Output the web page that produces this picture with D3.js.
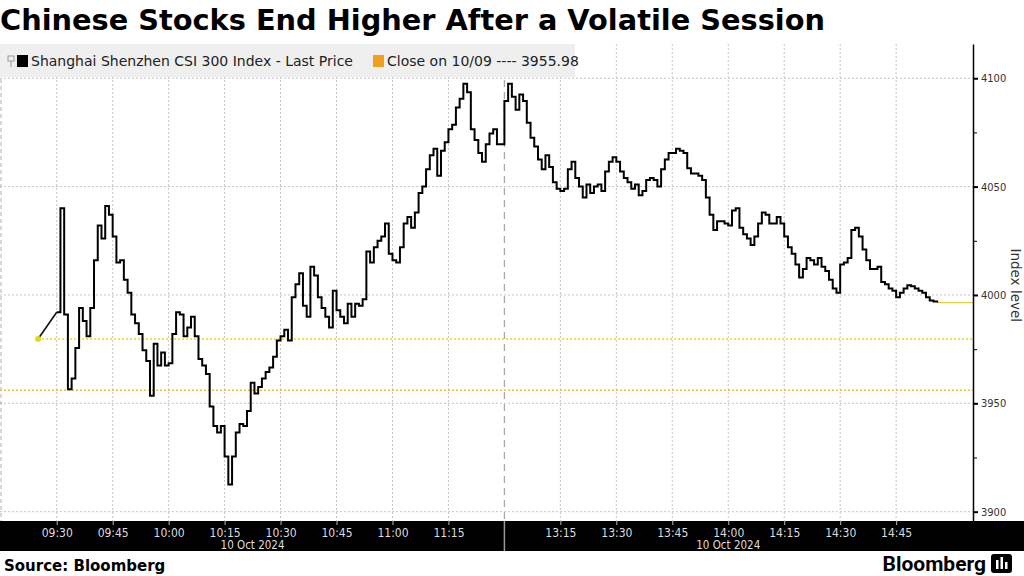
<!DOCTYPE html>
<html>
<head>
<meta charset="utf-8">
<script src="https://cdn.jsdelivr.net/npm/d3@7"></script>
<style>
  html, body { margin: 0; padding: 0; background: #fff; }
  svg { display: block; font-family: "DejaVu Sans", Verdana, sans-serif; }
</style>
</head>
<body>
<svg id="chart" width="1024" height="576"></svg>
<script>
// CSI 300 intraday, 10 Oct 2024 - one reading per minute
var openTime = "09:25";
var openValue = 3979.7;

var amStart = "09:30";
var amValues = [
  3992, 4040, 3991, 3956.5, 3961.5, 3975.5, 3994, 3988, 3981, 3994,
  4016, 4032, 4026, 4041, 4037, 4027, 4015, 4016, 4007, 4001,
  3991, 3987, 3982, 3974.5, 3969.5, 3953.5, 3977.5, 3967.5, 3973.5, 3967.5,
  3968.5, 3982, 3992, 3991, 3981, 3985, 3990, 3981, 3970.5, 3967.5,
  3963.5, 3948.5, 3939.5, 3936.5, 3939.5, 3925.5, 3912.5, 3925.5, 3936.5, 3940.5,
  3939.5, 3946.5, 3959.5, 3954.5, 3957.5, 3961.5, 3964.5, 3966.5, 3971.5, 3979,
  3981, 3984, 3979, 3999, 4005, 4010, 3995, 3990, 4013, 4009,
  3999, 3994, 3990, 3985, 4002, 3993, 3990, 3987, 3996, 3990,
  3996, 3995, 3998, 4020, 4015, 4022, 4025, 4027, 4033, 4019,
  4016, 4015, 4022, 4033, 4036, 4031, 4038, 4047, 4050, 4058,
  4064.5, 4067.5, 4055, 4066.5, 4070.5, 4076.5, 4078.5, 4086.5, 4090.5, 4097.5,
  4093.5, 4076.5, 4071.5, 4065.5, 4061.5, 4069.5, 4074.5, 4076.5, 4069.5, 4069.5
];

var pmStart = "13:00";
var pmValues = [
  4089.5, 4097.5, 4091.5, 4085.5, 4092.5, 4089.5, 4079.5, 4072.5, 4068.5, 4062.5,
  4058, 4064.5, 4059, 4052, 4049, 4048, 4049, 4058, 4061.5, 4054,
  4050, 4045, 4051, 4047, 4050, 4051, 4048, 4057, 4061.5, 4063.5,
  4061.5, 4057, 4054, 4052, 4049, 4051, 4046, 4048, 4053, 4054,
  4053, 4050, 4058, 4062.5, 4065.5, 4065.5, 4067.5, 4066.5, 4065.5, 4058.5,
  4056, 4056, 4055, 4053, 4045, 4037, 4030, 4034, 4034, 4033,
  4032, 4039, 4040, 4031, 4028, 4026, 4023, 4027, 4033, 4038,
  4037, 4033, 4033, 4036, 4033, 4027, 4022, 4019, 4014, 4008,
  4012, 4017, 4016, 4014, 4017, 4013, 4011, 4007, 4003, 4001,
  4014, 4015, 4017, 4030, 4031, 4027, 4021, 4016, 4012, 4012,
  4013, 4006, 4005, 4003, 4002, 3999, 4001, 4003, 4004.5, 4004,
  4003, 4002, 4001, 3999, 3997.5, 3997, 3996.5
];

var prevClose = 3955.98;
var yTicks = [3900, 3950, 4000, 4050, 4100];
var yMinorTicks = [3925, 3975, 4025, 4075];
var timeTicks = ["09:30", "09:45", "10:00", "10:15", "10:30", "10:45", "11:00", "11:15",
                 "13:15", "13:30", "13:45", "14:00", "14:15", "14:30", "14:45"];
var sessions = [["09:15", "11:30"], ["13:00", "15:00"]];
var dateLabel = "10 Oct 2024";

// lunch break removed: minutes counted from 09:15
function sessionMinute(s) {
  var p = s.split(":");
  var m = +p[0] * 60 + +p[1];
  return m <= 690 ? m - 555 : m - 780 + 135;
}

var aData = amValues.map(function(v, i) { return { t: sessionMinute(amStart) + i, v: v }; })
  .concat(pmValues.map(function(v, i) { return { t: sessionMinute(pmStart) + i, v: v }; }));

var svg = d3.select("#chart");
var plotTop = 44, plotBottom = 521, plotRight = 973;
var condensed = "DejaVu Sans Condensed, DejaVu Sans, sans-serif";

var x = d3.scaleLinear().domain([0, 260.6]).range([0.75, plotRight]);
var y = d3.scaleLinear().domain([3895.7, 4115.8]).range([plotBottom, plotTop]);

// title
svg.append("text")
  .attr("x", 0).attr("y", 30)
  .attr("font-size", 28.8).attr("font-weight", "bold").attr("fill", "#000")
  .text("Chinese Stocks End Higher After a Volatile Session");

// grid
var grid = svg.append("g");
grid.selectAll("line.h").data(yTicks).enter().append("line")
  .attr("x1", 0).attr("x2", plotRight)
  .attr("y1", function(d) { return y(d); }).attr("y2", function(d) { return y(d); })
  .attr("stroke", "#c4c4c4").attr("stroke-dasharray", "2,2");
grid.selectAll("line.v").data(timeTicks).enter().append("line")
  .attr("x1", function(d) { return x(sessionMinute(d)); })
  .attr("x2", function(d) { return x(sessionMinute(d)); })
  .attr("y1", plotTop).attr("y2", plotBottom)
  .attr("stroke", "#c4c4c4").attr("stroke-dasharray", "2,2");
grid.append("line")
  .attr("x1", 1).attr("x2", 1).attr("y1", plotTop).attr("y2", plotBottom)
  .attr("stroke", "#b0b0b0").attr("stroke-dasharray", "4,3");
grid.append("line")
  .attr("x1", x(sessionMinute("11:30"))).attr("x2", x(sessionMinute("11:30")))
  .attr("y1", plotTop).attr("y2", plotBottom)
  .attr("stroke", "#a8a8a8").attr("stroke-width", 1.3).attr("stroke-dasharray", "7,5");

// reference lines
svg.append("line")
  .attr("x1", 0).attr("x2", plotRight)
  .attr("y1", y(prevClose)).attr("y2", y(prevClose))
  .attr("stroke", "#f3b84a").attr("stroke-width", 1.5).attr("stroke-dasharray", "2,2");
svg.append("line")
  .attr("x1", x(sessionMinute(openTime))).attr("x2", plotRight)
  .attr("y1", y(openValue)).attr("y2", y(openValue))
  .attr("stroke", "#e2d820").attr("stroke-width", 1.5).attr("stroke-dasharray", "2,2");
var oLast = aData[aData.length - 1];
svg.append("line")
  .attr("x1", x(oLast.t)).attr("x2", plotRight)
  .attr("y1", y(oLast.v)).attr("y2", y(oLast.v))
  .attr("stroke", "#e6cf3c").attr("stroke-width", 1.2);

// price line
svg.append("path")
  .datum([{ t: sessionMinute(openTime), v: openValue }, aData[0]])
  .attr("fill", "none").attr("stroke", "#111").attr("stroke-width", 1.6)
  .attr("d", d3.line().x(function(d) { return x(d.t); }).y(function(d) { return y(d.v); }));
svg.append("path")
  .datum(aData)
  .attr("fill", "none").attr("stroke", "#000").attr("stroke-width", 2)
  .attr("stroke-linejoin", "miter")
  .attr("d", d3.line().curve(d3.curveStepAfter)
    .x(function(d) { return x(d.t); }).y(function(d) { return y(d.v); }));
svg.append("circle")
  .attr("cx", x(sessionMinute(openTime))).attr("cy", y(openValue)).attr("r", 3)
  .attr("fill", "#e2d820");

// right axis
var gAxis = svg.append("g").attr("transform", "translate(" + plotRight + ",0)");
gAxis.call(d3.axisRight(y).tickValues(yTicks).tickSize(5).tickSizeOuter(0).tickPadding(3)
  .tickFormat(d3.format("d")));
gAxis.select(".domain").attr("stroke", "#000").attr("stroke-width", 1.5);
gAxis.selectAll(".tick line").attr("stroke", "#000").attr("stroke-width", 2);
gAxis.selectAll(".tick text").attr("font-size", 11).attr("fill", "#333")
  .attr("font-family", condensed);
var gMinor = svg.append("g").attr("transform", "translate(" + plotRight + ",0)");
gMinor.call(d3.axisRight(y).tickValues(yMinorTicks).tickSize(4).tickSizeOuter(0).tickFormat(""));
gMinor.select(".domain").remove();
gMinor.selectAll(".tick line").attr("stroke", "#000");
svg.append("text")
  .attr("transform", "translate(1011," + y(4004.5) + ") rotate(90)")
  .attr("text-anchor", "middle")
  .attr("font-size", 13.5).attr("fill", "#333")
  .text("Index level");

// time band
svg.append("rect").attr("x", 0).attr("y", plotBottom).attr("width", 1024).attr("height", 30)
  .attr("fill", "#000");
var gTime = svg.append("g").attr("transform", "translate(0," + plotBottom + ")");
gTime.call(d3.axisBottom(x).tickValues(timeTicks.map(sessionMinute)).tickSize(4).tickSizeOuter(0)
  .tickPadding(3)
  .tickFormat(function(d, i) { return timeTicks[i]; }));
gTime.select(".domain").remove();
gTime.selectAll(".tick line").attr("stroke", "#bbb");
gTime.selectAll(".tick text").attr("fill", "#ddd").attr("font-size", 12)
  .attr("font-family", condensed);
svg.append("line")
  .attr("x1", x(sessionMinute("11:30"))).attr("x2", x(sessionMinute("11:30")))
  .attr("y1", plotBottom).attr("y2", plotBottom + 30)
  .attr("stroke", "#999").attr("stroke-width", 1.5);
svg.selectAll("text.date").data(sessions).enter().append("text")
  .attr("class", "date")
  .attr("x", function(d) { return (x(sessionMinute(d[0])) + x(sessionMinute(d[1]))) / 2; })
  .attr("y", plotBottom + 28)
  .attr("text-anchor", "middle").attr("fill", "#ddd").attr("font-size", 11.5)
  .attr("font-family", condensed)
  .text(dateLabel);

// legend
var gLeg = svg.append("g");
gLeg.append("rect").attr("x", 0).attr("y", plotTop).attr("width", 575).attr("height", 33)
  .attr("fill", "#efefef");
gLeg.append("rect").attr("x", 8).attr("y", 56).attr("width", 6).attr("height", 5)
  .attr("fill", "none").attr("stroke", "#999");
gLeg.append("line").attr("x1", 11).attr("x2", 11).attr("y1", 61).attr("y2", 67).attr("stroke", "#999");
gLeg.append("rect").attr("x", 17).attr("y", 55).attr("width", 11).attr("height", 12).attr("fill", "#000");
gLeg.append("text").attr("x", 31).attr("y", 66).attr("font-size", 14).attr("fill", "#222")
  .text("Shanghai Shenzhen CSI 300 Index - Last Price");
gLeg.append("rect").attr("x", 373).attr("y", 55).attr("width", 11).attr("height", 12).attr("fill", "#f0a01e");
gLeg.append("text").attr("x", 387).attr("y", 66).attr("font-size", 14).attr("fill", "#222")
  .text("Close on 10/09 ---- " + prevClose.toFixed(2));

// footer
svg.append("text").attr("x", 4).attr("y", 571)
  .attr("font-size", 15).attr("font-weight", "bold").attr("fill", "#000")
  .text("Source: Bloomberg");
svg.append("text").attr("x", 986).attr("y", 571).attr("text-anchor", "end")
  .attr("font-size", 21).attr("font-weight", "bold").attr("fill", "#000")
  .attr("font-family", "Roboto, Lato, sans-serif")
  .text("Bloomberg");
var gLogo = svg.append("g").attr("transform", "translate(991,554)");
gLogo.append("rect").attr("width", 21).attr("height", 19).attr("rx", 3).attr("fill", "#000");
gLogo.append("rect").attr("x", 5).attr("y", 6).attr("width", 2.5).attr("height", 9).attr("fill", "#fff");
gLogo.append("rect").attr("x", 9.5).attr("y", 3).attr("width", 2.5).attr("height", 12).attr("fill", "#fff");
gLogo.append("rect").attr("x", 14).attr("y", 8).attr("width", 2.5).attr("height", 7).attr("fill", "#fff");
</script>
</body>
</html>
